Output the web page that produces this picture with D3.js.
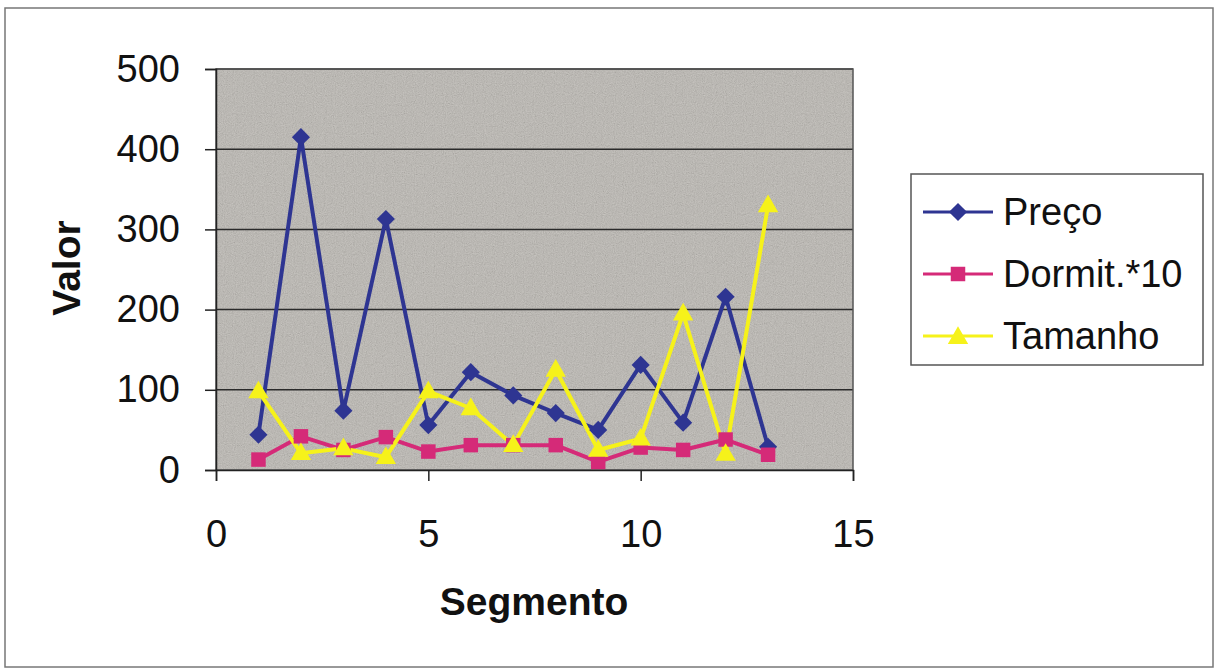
<!DOCTYPE html>
<html>
<head>
<meta charset="utf-8">
<script src="https://cdn.jsdelivr.net/npm/d3@7"></script>
<style>
  body { margin: 0; background: #fff; }
  svg { display: block; font-family: Arial, "Liberation Sans", sans-serif; }
</style>
</head>
<body>
<svg width="1216" height="670"></svg>
<script>
// data
const segmento = [1, 2, 3, 4, 5, 6, 7, 8, 9, 10, 11, 12, 13];
const preco = [44, 415, 74, 313, 56, 122, 93, 71, 50, 131, 59, 216, 29];
const dormit = [13, 42, 25, 41, 23, 31, 31, 31, 10, 28, 25, 38, 19];
const tamanho = [98, 21, 27, 16, 98, 77, 31, 125, 25, 39, 195, 20, 330];
const seriesNames = ["Preço", "Dormit.*10", "Tamanho"];
const yTicks = [0, 100, 200, 300, 400, 500];
const xTicks = [0, 5, 10, 15];

const colors = ["#2e3592", "#d52a78", "#f6f21a"];
const symbols = [d3.symbolDiamond2, d3.symbolSquare, d3.symbolTriangle];
const symSize = [210, 210, 180];

const svg = d3.select("svg");

const plot = { left: 216, right: 853, top: 69, bottom: 470 };

const x = d3.scaleLinear().domain([0, 15]).range([plot.left, plot.right]);
const y = d3.scaleLinear().domain([0, 500]).range([plot.bottom, plot.top]);

// outer frame
svg.append("rect")
  .attr("x", 5).attr("y", 8)
  .attr("width", 1208).attr("height", 659)
  .attr("fill", "none")
  .attr("stroke", "#777")
  .attr("stroke-width", 1.5);

// grainy grey plot background
const defs = svg.append("defs");
const f = defs.append("filter").attr("id", "grain")
  .attr("x", 0).attr("y", 0).attr("width", 1).attr("height", 1);
f.append("feTurbulence")
  .attr("type", "fractalNoise")
  .attr("baseFrequency", 0.9)
  .attr("numOctaves", 2)
  .attr("seed", 3);
f.append("feColorMatrix")
  .attr("type", "matrix")
  .attr("values", "0.33 0.33 0.33 0 0  0.33 0.33 0.33 0 0  0.33 0.33 0.33 0 0  0 0 0 0 0.35");

svg.append("rect")
  .attr("x", plot.left).attr("y", plot.top)
  .attr("width", plot.right - plot.left)
  .attr("height", plot.bottom - plot.top)
  .attr("fill", "#bab6af");
svg.append("rect")
  .attr("x", plot.left).attr("y", plot.top)
  .attr("width", plot.right - plot.left)
  .attr("height", plot.bottom - plot.top)
  .attr("filter", "url(#grain)");

// gridlines
svg.append("g")
  .selectAll("line")
  .data(yTicks.slice(1))
  .join("line")
  .attr("x1", plot.left).attr("x2", plot.right)
  .attr("y1", d => y(d)).attr("y2", d => y(d))
  .attr("stroke", "#2a2a2a")
  .attr("stroke-width", 1.5);

// plot border
svg.append("rect")
  .attr("x", plot.left).attr("y", plot.top)
  .attr("width", plot.right - plot.left)
  .attr("height", plot.bottom - plot.top)
  .attr("fill", "none")
  .attr("stroke", "#555")
  .attr("stroke-width", 1.5);

// axes
const yAxis = svg.append("g")
  .attr("transform", `translate(${plot.left},0)`)
  .call(d3.axisLeft(y).tickValues(yTicks).tickSize(11).tickPadding(25));
const xAxis = svg.append("g")
  .attr("transform", `translate(0,${plot.bottom})`)
  .call(d3.axisBottom(x).tickValues(xTicks).tickSize(11).tickPadding(39));

[yAxis, xAxis].forEach(a => {
  a.select(".domain").attr("stroke", "#222").attr("stroke-width", 1.5);
  a.selectAll(".tick line").attr("stroke", "#222").attr("stroke-width", 1.5);
  a.selectAll("text")
    .attr("font-size", 38)
    .attr("font-family", "Arial, 'Liberation Sans', sans-serif")
    .attr("fill", "#111");
});

// axis titles
svg.append("text")
  .attr("transform", "translate(80,268) rotate(-90)")
  .attr("text-anchor", "middle")
  .attr("font-size", 39)
  .attr("font-weight", "bold")
  .attr("fill", "#111")
  .text("Valor");

svg.append("text")
  .attr("x", 534).attr("y", 615)
  .attr("text-anchor", "middle")
  .attr("font-size", 39)
  .attr("font-weight", "bold")
  .attr("fill", "#111")
  .text("Segmento");

// series
const allSeries = [preco, dormit, tamanho];
const line = d3.line()
  .x((d, i) => x(segmento[i]))
  .y(d => y(d));

allSeries.forEach((vals, k) => {
  svg.append("path")
    .datum(vals)
    .attr("d", line)
    .attr("fill", "none")
    .attr("stroke", colors[k])
    .attr("stroke-width", 4)
    .attr("stroke-linejoin", "round");
});

allSeries.forEach((vals, k) => {
  svg.append("g")
    .selectAll("path")
    .data(vals)
    .join("path")
    .attr("transform", (d, i) => `translate(${x(segmento[i])},${y(d) + (k === 2 ? 1 : 0)})`)
    .attr("d", d3.symbol().type(symbols[k]).size(symSize[k]))
    .attr("fill", colors[k]);
});

// legend
const legend = svg.append("g");
legend.append("rect")
  .attr("x", 911).attr("y", 174)
  .attr("width", 292).attr("height", 191)
  .attr("fill", "#fff")
  .attr("stroke", "#555")
  .attr("stroke-width", 1.5);

const items = legend.selectAll("g")
  .data(seriesNames)
  .join("g")
  .attr("transform", (d, i) => `translate(0,${212 + i * 62})`);

items.append("line")
  .attr("x1", 923).attr("x2", 993)
  .attr("stroke", (d, i) => colors[i])
  .attr("stroke-width", 3);
items.append("path")
  .attr("transform", (d, i) => `translate(958,${i === 2 ? 2 : 0})`)
  .attr("d", (d, i) => d3.symbol().type(symbols[i]).size(symSize[i])())
  .attr("fill", (d, i) => colors[i]);
items.append("text")
  .attr("x", 1003)
  .attr("dy", "0.35em")
  .attr("font-size", 38)
  .attr("fill", "#111")
  .text(d => d);
</script>
</body>
</html>
